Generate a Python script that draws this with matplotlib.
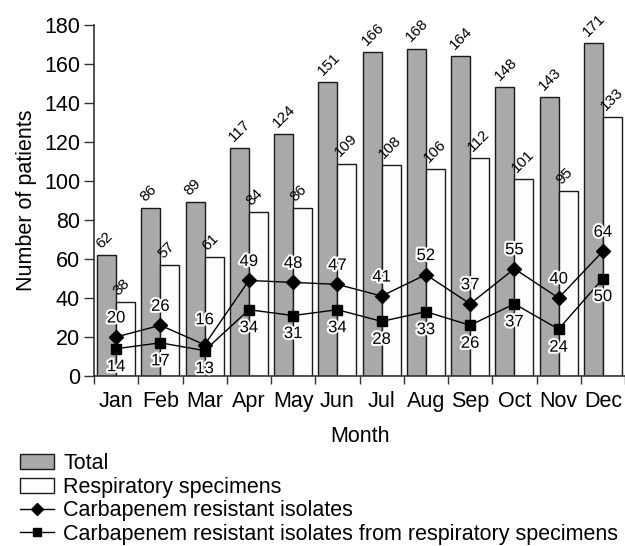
import matplotlib.pyplot as plt
import matplotlib.patheffects as pe
from matplotlib.patches import Patch
from matplotlib.lines import Line2D
import numpy as np

plt.rcParams['font.family'] = ['Liberation Sans', 'DejaVu Sans']

# === Data
months = ['Jan', 'Feb', 'Mar', 'Apr', 'May', 'Jun', 'Jul', 'Aug', 'Sep', 'Oct', 'Nov', 'Dec']
total = [62, 86, 89, 117, 124, 151, 166, 168, 164, 148, 143, 171]
respiratory = [38, 57, 61, 84, 86, 109, 108, 106, 112, 101, 95, 133]
cr_isolates = [20, 26, 16, 49, 48, 47, 41, 52, 37, 55, 40, 64]
cr_resp = [14, 17, 13, 34, 31, 34, 28, 33, 26, 37, 24, 50]

x = np.arange(len(months))
w = 0.43
gray = '#a9a9a9'
edge = '#1a1a1a'
fs = 15.5

fig = plt.figure(figsize=(6.25, 5.46), dpi=100)
ax = fig.add_axes([0.1504, 0.3114, 0.8496, 0.6426])

ax.bar(x - w / 2, total, w, color=gray, edgecolor=edge, linewidth=1.0, zorder=2)
ax.bar(x + w / 2, respiratory, w, color='#fdfdfd', edgecolor=edge, linewidth=1.0, zorder=2)

ax.plot(x, cr_isolates, color='black', marker='D', markersize=7, linewidth=1.0, zorder=4)
ax.plot(x, cr_resp, color='black', marker='s', markersize=7.5, linewidth=1.0, zorder=4)

# value labels on bars (rotated)
for i in range(len(months)):
    ax.text(x[i] - w + 0.14, total[i] + 2, str(total[i]), rotation=45,
            rotation_mode='anchor', ha='left', va='bottom', fontsize=11, zorder=5)
    ax.text(x[i] + 0.11, respiratory[i] + 2, str(respiratory[i]), rotation=45,
            rotation_mode='anchor', ha='left', va='bottom', fontsize=11, zorder=5)

# value labels on lines, with white halo
halo = [pe.withStroke(linewidth=3, foreground='white')]
for i in range(len(months)):
    up = 19 if i != 2 else 25
    ax.annotate(str(cr_isolates[i]), (x[i], cr_isolates[i]), xytext=(0, up),
                textcoords='offset pixels', ha='center', va='center',
                fontsize=12, path_effects=halo, zorder=6)
    ax.annotate(str(cr_resp[i]), (x[i], cr_resp[i]), xytext=(0, -18),
                textcoords='offset pixels', ha='center', va='center',
                fontsize=12, path_effects=halo, zorder=6)

ax.set_xlim(-0.5, len(months) - 0.5)
ax.set_ylim(0, 180)
ax.set_yticks(range(0, 181, 20))
ax.set_xticks(x)
ax.set_xticklabels(months)
ax.set_xticks(np.arange(-0.5, len(months), 1), minor=True)
ax.tick_params(axis='x', which='major', length=0, labelsize=fs, pad=11)
ax.tick_params(axis='x', which='minor', length=6, width=1, color='#333333')
ax.tick_params(axis='y', labelsize=fs, length=7, width=1, color='#333333', pad=3)

for s in ['top', 'right']:
    ax.spines[s].set_visible(False)
for s in ['left', 'bottom']:
    ax.spines[s].set_color('#333333')
    ax.spines[s].set_linewidth(1.2)

ax.set_xlabel('Month', fontsize=fs, labelpad=10)
ax.set_ylabel('Number of patients', fontsize=fs, labelpad=5)

handles = [
    Patch(facecolor=gray, edgecolor=edge, linewidth=1.0),
    Patch(facecolor='#fdfdfd', edgecolor=edge, linewidth=1.0),
    Line2D([], [], color='black', marker='D', markersize=6, linewidth=1.0),
    Line2D([], [], color='black', marker='s', markersize=6, linewidth=1.0),
]
labels = ['Total', 'Respiratory specimens', 'Carbapenem resistant isolates',
          'Carbapenem resistant isolates from respiratory specimens']
fig.legend(handles, labels, loc='upper left', bbox_to_anchor=(0.032, 0.17),
           frameon=False, fontsize=fs, handlelength=1.6, handletextpad=0.4,
           labelspacing=0.12, borderaxespad=0, borderpad=0)

fig.savefig('out.png', dpi=100)
